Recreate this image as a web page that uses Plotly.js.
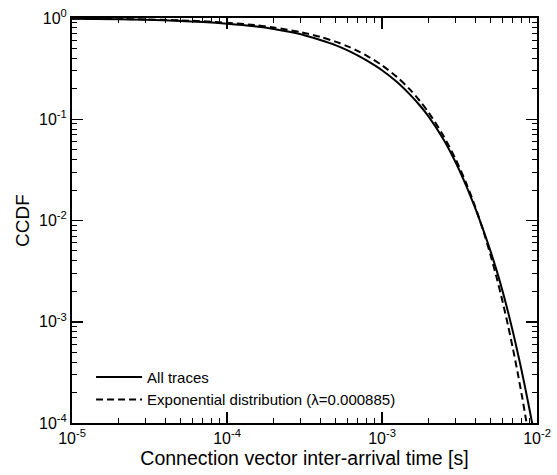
<!DOCTYPE html>
<html>
<head>
<meta charset="utf-8">
<script src="https://cdn.plot.ly/plotly-3.0.1.min.js"></script>
<style>html,body{margin:0;padding:0;background:#fff;}#chart{width:557px;height:475px;}</style>
</head>
<body>
<div id="chart"></div>
<script>
// Solid: All traces
const allX = [1e-5, 2e-5, 3e-5, 5e-5, 7e-5, 1e-4, 1.5e-4, 2e-4, 3e-4, 4e-4, 5e-4, 6e-4, 7e-4, 8e-4, 1e-3, 1.25e-3, 1.5e-3, 1.75e-3, 2e-3, 2.5e-3, 3e-3, 3.5e-3, 4e-3, 4.5e-3, 5e-3, 5.5e-3, 6e-3, 6.5e-3, 7e-3, 7.5e-3, 8e-3, 8.5e-3, 9e-3, 9.5e-3, 9.8e-3];
const allY = [0.985, 0.972, 0.96, 0.935, 0.912, 0.878, 0.828, 0.78, 0.692, 0.607, 0.540, 0.479, 0.425, 0.379, 0.305, 0.233, 0.178, 0.1375, 0.1063, 0.0628, 0.0370, 0.0219, 0.01318, 0.00809, 0.00504, 0.00318, 0.0020, 0.001256, 0.00079, 0.000498, 0.000317, 0.000202, 0.00013, 0.0000845, 0.0000655];
// Dashed: Exponential distribution
const expX = [1e-5, 2e-5, 3e-5, 5e-5, 7e-5, 1e-4, 1.5e-4, 2e-4, 3e-4, 4e-4, 5e-4, 6e-4, 7e-4, 8e-4, 1e-3, 1.25e-3, 1.5e-3, 1.75e-3, 2e-3, 2.5e-3, 3e-3, 3.5e-3, 4e-3, 4.5e-3, 5e-3, 5.5e-3, 6e-3, 6.5e-3, 7e-3, 7.5e-3, 8e-3, 8.5e-3, 9e-3];
const expY = [0.9893, 0.9787, 0.9683, 0.9477, 0.9275, 0.898, 0.851, 0.8065, 0.7243, 0.6504, 0.5841, 0.5246, 0.4711, 0.4231, 0.3412, 0.2608, 0.1993, 0.1523, 0.1164, 0.0680, 0.0397, 0.0232, 0.01355, 0.00792, 0.00463, 0.0027, 0.001579, 0.000922, 0.000539, 0.000315, 0.000184, 0.0001073, 0.0000627];
const names = ["All traces", "Exponential distribution (\u03bb=0.000885)"];
const xTickVals = [1e-5, 1e-4, 1e-3, 1e-2];
const xTickText = ["10<sup>-5</sup>", "10<sup>-4</sup>", "10<sup>-3</sup>", "10<sup>-2</sup>"];
const yTickVals = [1e-4, 1e-3, 1e-2, 1e-1, 1];
const yTickText = ["10<sup>-4</sup>", "10<sup>-3</sup>", "10<sup>-2</sup>", "10<sup>-1</sup>", "10<sup>0</sup>"];

const font = "Liberation Sans, Arial, Helvetica, sans-serif";
const traces = [
  {x: allX, y: allY, name: names[0], mode: "lines", line: {color: "#000", width: 2, shape: "spline", smoothing: 0.8}},
  {x: expX, y: expY, name: names[1], mode: "lines", line: {color: "#000", width: 2, dash: "7px,4px", shape: "spline", smoothing: 0.8}}
];
const axisCommon = {
  type: "log", showgrid: false, zeroline: false,
  showline: true, linecolor: "#000", linewidth: 2, mirror: "allticks",
  ticks: "inside", ticklen: 11, tickwidth: 1.5, tickcolor: "#000",
  minor: {ticks: "inside", ticklen: 5, tickwidth: 1, tickcolor: "#000", dtick: "D1", showgrid: false},
  tickfont: {family: font, size: 16, color: "#000"},
  tickmode: "array"
};
const layout = {
  width: 557, height: 475,
  margin: {l: 72, r: 20, t: 18, b: 52},
  paper_bgcolor: "#fff", plot_bgcolor: "#fff",
  font: {family: font, color: "#000"},
  showlegend: true,
  legend: {x: 0.041, y: 0.018, xanchor: "left", yanchor: "bottom", bgcolor: "rgba(0,0,0,0)", borderwidth: 0,
           font: {family: font, size: 15, color: "#000"}, itemwidth: 46, tracegroupgap: 0},
  xaxis: Object.assign({}, axisCommon, {
    range: [-5, -2], tickvals: xTickVals, ticktext: xTickText,
    title: {text: "Connection vector inter-arrival time [s]", font: {family: font, size: 19.5, color: "#000"}, standoff: 2}
  }),
  yaxis: Object.assign({}, axisCommon, {
    range: [-4, 0], tickvals: yTickVals, ticktext: yTickText,
    title: {text: "CCDF", font: {family: font, size: 19, color: "#000"}, standoff: 4}
  })
};
Plotly.newPlot("chart", traces, layout, {displayModeBar: false, staticPlot: true});
</script>
</body>
</html>
